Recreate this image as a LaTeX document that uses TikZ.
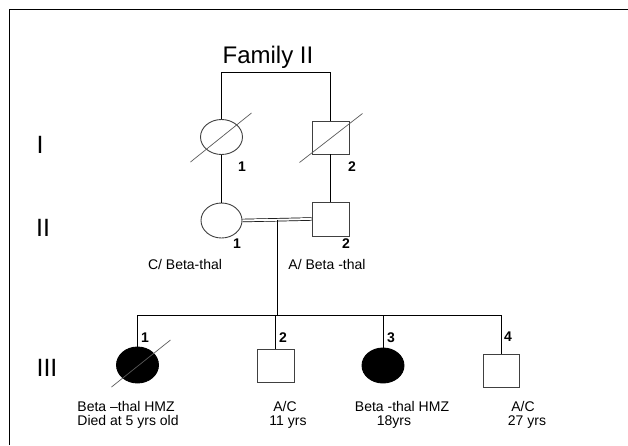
\documentclass[tikz,border=0pt]{standalone}
\usepackage{fontspec}
\setmainfont{Liberation Sans}
\usetikzlibrary{shapes.geometric,calc}
\begin{document}
\begin{tikzpicture}[x=1pt,y=-1pt,
  line width=0.9pt,
  fem/.style={ellipse, draw=black!75, minimum width=42pt, minimum height=35pt, inner sep=0},
  mal/.style={rectangle, draw=black!75, minimum width=37pt, minimum height=33pt, inner sep=0},
  aff/.style={fill=black, draw=black},
  num/.style={font=\fontsize{14}{15}\selectfont\bfseries, inner sep=0},
  lbl/.style={font=\fontsize{14}{16}\selectfont, inner sep=0},
  gen/.style={font=\fontsize{25}{26}\selectfont, inner sep=0},
  dead/.style={line width=0.7pt, draw=black!65}]
\useasboundingbox (0,0) rectangle (628,445);
\draw[line width=1.4pt] (9.5,445) -- (9.5,9.5) -- (628,9.5);

% title
\node[font=\fontsize{24}{26}\selectfont, inner sep=0] (title) at (268,57) {Family II};

% generation labels
\node[gen] (gI) at (40,145) {I};
\node[gen] (gII) at (43,228) {II};
\node[gen] (gIII) at (47,368) {III};

% generation I
\node[fem] (I1) at (221.5,137) {};
\node[mal] (I2) at (330.5,137.5) {};
\coordinate (top) at (0,72);
\draw (I1.north) -- (I1.north |- top) -- (I2.north |- top) -- (I2.north);
\draw[dead] ($(I1)+(-31,25)$) -- ($(I1)+(30,-24)$);
\draw[dead] ($(I2)+(-31,25)$) -- ($(I2)+(32,-24)$);
\node[num] (nI1) at (242,167) {1};
\node[num] (nI2) at (352,167) {2};

% generation II
\node[fem, minimum width=41pt] (II1) at (221.5,220.5) {};
\node[mal, minimum height=34pt] (II2) at (330.5,219) {};
\draw (I1.south) -- (II1.north);
\draw (I2.south) -- (II2.north);
\draw[double=white, double distance=2pt, line width=0.7pt] (II1.east) -- (II2.west);
\node[num] (nII1) at (237,244) {1};
\node[num] (nII2) at (346,244) {2};
\node[lbl] (tII1) at (185,264) {C/ Beta-thal};
\node[lbl] (tII2) at (327,264) {A/ Beta -thal};

% sibship
\coordinate (m) at ($(II1.east)!0.5!(II2.west)$);
\coordinate (sib) at (0,315);
\node[fem, aff, minimum width=42pt, minimum height=36pt] (III1) at (137.5,365) {};
\node[mal] (III2) at (275.5,365.5) {};
\node[fem, aff, minimum width=42pt, minimum height=35pt] (III3) at (383,365.5) {};
\node[mal, minimum width=36pt] (III4) at (501,370.5) {};
\draw (m) -- (m |- sib);
\draw (III1.north) -- (III1.north |- sib) -- (III4.north |- sib) -- (III4.north);
\draw (III2.north |- sib) -- (III2.north);
\draw (III3.north |- sib) -- (III3.north);
\draw[dead] ($(III1)+(-26,22)$) -- ($(III1)+(33,-25)$);

\node[num] (nIII1) at (145,338) {1};
\node[num] (nIII2) at (283,338) {2};
\node[num] (nIII3) at (391,338) {3};
\node[num] (nIII4) at (508,337) {4};

% bottom labels
\node[lbl, anchor=west] (t1a) at (77,406) {Beta –thal HMZ};
\node[lbl, anchor=west] (t1b) at (77,422) {Died at 5 yrs old};
\node[lbl] (t2a) at (285,406) {A/C};
\node[lbl] (t2b) at (288,422) {11 yrs};
\node[lbl] (t3a) at (402,406) {Beta -thal HMZ};
\node[lbl] (t3b) at (394,422) {18yrs};
\node[lbl] (t4a) at (523,406) {A/C};
\node[lbl] (t4b) at (527,422) {27 yrs};
\end{tikzpicture}
\end{document}
